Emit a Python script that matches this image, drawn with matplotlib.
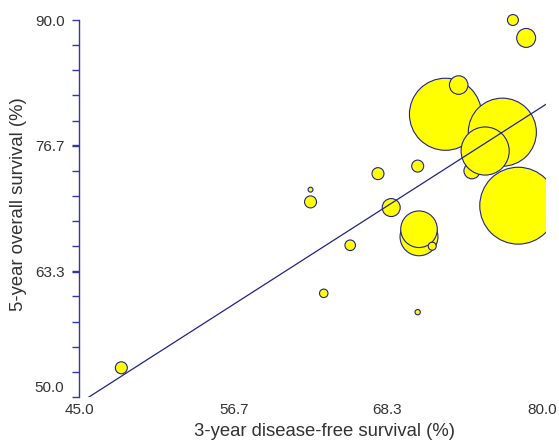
"""
Bubble plot: 3-year DFS vs 5-year OS with fitted meta-regression line.
"""
import matplotlib
matplotlib.use("Agg")
import matplotlib.pyplot as plt
import matplotlib.transforms as mtransforms
import numpy as np

plt.rcParams['font.family'] = ['Liberation Sans', 'DejaVu Sans']

# study estimates (%), drawn in this order
dfs_3yr = [78.2, 72.7, 77.0, 74.7, 75.7, 70.7, 70.7, 78.8, 73.7, 68.6,
           71.7, 77.8, 70.6, 67.6, 62.5, 48.2, 65.5, 63.5, 70.6, 62.5]
os_5yr = [70.3, 80.0, 78.1, 74.0, 76.1, 67.0, 67.8, 88.1, 83.1, 70.1,
          66.0, 90.0, 74.5, 73.7, 70.7, 53.1, 66.1, 61.0, 59.0, 72.0]
# relative study weight (bubble area)
weight = [1480, 1300, 1160, 64, 580, 360, 335, 90, 86, 81,
          16, 30, 36, 36, 36, 36, 28, 18, 7, 6]

# fitted line  OS = a + b * DFS
fit_intercept = 8.87
fit_slope = 0.899

x_ticks = [45.0, 56.7, 68.3, 80.0]
y_ticks = [50.0, 63.3, 76.7, 90.0]

navy = '#22228c'
text_col = '#333333'

fig = plt.figure(figsize=(5.59, 4.40), dpi=100)
ax = fig.add_axes([79 / 559, 43 / 440, 467 / 559, 386.4 / 440])

ax.set_xlim(45.0, 80.3)
ax.set_ylim(50.0, 91.0)

# bubble area ~ weight, scaled to points^2
ax.scatter(dfs_3yr, os_5yr, s=np.array(weight) * 2.07, c='#ffff00',
           edgecolors=navy, linewidths=0.8, zorder=3)

xs = np.array([45.0, 80.3])
ax.plot(xs, fit_intercept + fit_slope * xs, color=navy, lw=0.9, zorder=4)

for side in ('top', 'right', 'bottom'):
    ax.spines[side].set_visible(False)
ax.spines['left'].set_color('#3535a5')
ax.spines['left'].set_linewidth(1.0)
ax.spines['left'].set_bounds(50.0, 90.0)

ax.set_xticks(x_ticks)
ax.set_xticklabels(["%.1f" % v for v in x_ticks])
ax.set_yticks(y_ticks)
ax.set_yticklabels(["%.1f" % v for v in y_ticks])
ax.set_yticks(np.linspace(50.0, 90.0, 16), minor=True)

ax.tick_params(axis='x', length=0, pad=4, labelsize=11, labelcolor=text_col)
ax.tick_params(axis='y', which='both', direction='out', length=5, width=1.0,
               color='#3535a5', pad=5.5, labelsize=11, labelcolor=text_col)

# lowest y label sits a little above its tick
lab = ax.get_yticklabels()[0]
lab.set_transform(lab.get_transform() +
                  mtransforms.ScaledTranslation(0, 10 / 100, fig.dpi_scale_trans))

ax.set_xlabel("3-year disease-free survival (%)", fontsize=13.3, color=text_col)
ax.set_ylabel("5-year overall survival (%)", fontsize=13.3, color=text_col)
ax.xaxis.set_label_coords(0.525, -0.067)
ax.yaxis.set_label_coords(-0.112, 0.50)

fig.savefig("out.png", dpi=100)
